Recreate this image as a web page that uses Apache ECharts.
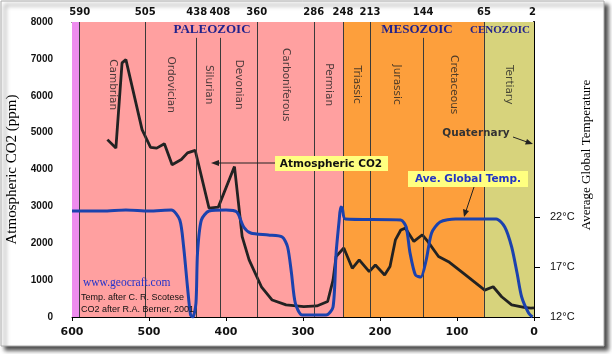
<!DOCTYPE html>
<html>
<head>
<meta charset="utf-8">
<script src="https://cdn.jsdelivr.net/npm/echarts@6/dist/echarts.min.js"></script>
<style>
    html, body { margin: 0; padding: 0; background: #fff; }
    #chart { width: 612px; height: 354px; }
</style>
</head>
<body>
<div id="chart"></div>
<script>
    // period boundaries (million years ago) shown on top axis
    var boundaries = [590, 505, 438, 408, 360, 286, 248, 213, 144, 65, 2];
    var shortLines = [438, 408, 144];   // lines that stop under the era names
    var periods = ['Cambrian', 'Ordovician', 'Silurian', 'Devonian', 'Carboniferous',
                   'Permian', 'Triassic', 'Jurassic', 'Cretaceous', 'Tertiary'];

    // atmospheric CO2 (ppm), after Berner
    var co2Ages = [554, 543, 535, 530, 528, 509, 498, 490, 480, 470, 458, 450, 440, 422, 410,
                   389, 379, 370, 354, 340, 322, 299, 282, 268, 261, 257, 247, 236, 227, 214,
                   206, 194, 187, 180, 173, 167, 156, 145, 138, 124, 111, 89, 64, 53, 42, 29, 13, 4, 0];
    var co2Ppm  = [4810, 4580, 6890, 6980, 6940, 5080, 4600, 4580, 4700, 4130, 4270, 4450, 4520, 2950, 2980,
                   4080, 2180, 1550, 820, 460, 330, 280, 300, 420, 1000, 1640, 1870, 1320, 1550, 1230,
                   1410, 1140, 1370, 2090, 2360, 2410, 2050, 2230, 2050, 1640, 1500, 1140, 730, 820, 550, 330, 260, 240, 250];

    // average global temperature (deg C), after Scotese
    var tempAges = [600, 560, 530, 500, 471, 460, 455, 450, 446, 443, 439, 437, 432, 422, 400,
                    386, 377, 368, 345, 327, 320, 315, 310, 301, 270, 261, 257, 253, 251, 249,
                    245, 173, 166, 161, 154, 147, 140, 133, 122, 102, 49, 38, 29, 22, 16, 7, 2];
    var tempC    = [22.6, 22.6, 22.7, 22.6, 22.7, 21.7, 19.0, 15.0, 12.2, 12.0, 13.4, 18.4, 21.7, 22.6, 22.7,
                    22.5, 21.0, 20.4, 20.2, 20.0, 19.0, 16.4, 13.4, 12.2, 12.2, 13.0, 18.4, 21.7, 23.0, 22.9,
                    21.8, 21.7, 21.0, 18.4, 16.2, 16.0, 17.7, 20.4, 21.5, 21.8, 21.8, 21.0, 19.0, 16.4, 14.0, 12.4, 12.0];

    var tempTicks = [12, 17, 22];

    function zip(a, b) {
        return a.map(function (v, i) { return [v, b[i]]; });
    }

    var chart = echarts.init(document.getElementById('chart'));

    var periodData = periods.map(function (p, i) {
        return { name: p, value: [(boundaries[i] + boundaries[i + 1]) / 2, 6300] };
    });
    periodData[9].value[0] = (65 + 0) / 2;

    var lineData = boundaries.slice(0, 10).map(function (b) {
        if (shortLines.indexOf(b) >= 0) {
            return [{ coord: [b, 0] }, { coord: [b, 7570] }];
        }
        return { xAxis: b };
    });

    var sans = 'DejaVu Sans';

    chart.setOption({
        backgroundColor: '#fff',
        animation: false,
        grid: { left: 72, right: 78, top: 22, bottom: 37, outerBoundsMode: 'none', containLabel: false },
        xAxis: [{
            type: 'value', min: 0, max: 600, interval: 100, inverse: true, position: 'bottom',
            axisLine: { lineStyle: { color: '#000', width: 1 } },
            axisTick: { length: 4, lineStyle: { color: '#000' } },
            axisLabel: { fontFamily: sans, fontWeight: 'bold', fontSize: 11, color: '#111', margin: 10 },
            splitLine: { show: false }
        }, {
            type: 'value', min: 0, max: 600, inverse: true, position: 'top',
            axisLine: { show: true, lineStyle: { color: '#000', width: 1 } },
            axisTick: { show: false },
            axisLabel: { customValues: boundaries, fontFamily: sans, fontWeight: 'bold', fontSize: 10, color: '#111', margin: 5 },
            splitLine: { show: false }
        }],
        yAxis: [{
            type: 'value', min: 0, max: 8000, interval: 1000,
            name: 'Atmospheric CO2 (ppm)', nameLocation: 'middle', nameGap: 50,
            nameTextStyle: { fontFamily: 'Liberation Serif', fontSize: 15, color: '#000' },
            axisLine: { show: true, lineStyle: { color: '#000' } },
            axisTick: { show: true, length: 8, lineStyle: { color: '#000' } },
            axisLabel: { formatter: function (v) { return String(v); }, fontFamily: 'Liberation Sans', fontWeight: 'bold', fontSize: 10, color: '#111', margin: 19 },
            splitLine: { show: false }
        }, {
            type: 'value', min: 12, max: 41.5, position: 'right',
            axisLine: { show: true, lineStyle: { color: '#000', width: 2 } },
            axisTick: { show: true, customValues: tempTicks, length: 6, lineStyle: { color: '#000' } },
            axisLabel: { customValues: tempTicks, formatter: '{value}°C', fontFamily: 'Liberation Sans', fontSize: 11, color: '#111', margin: 16 },
            splitLine: { show: false }
        }],
        series: [{
            type: 'line', data: [], silent: true, z: 1,
            markArea: {
                silent: true,
                data: [
                    [{ xAxis: 600, itemStyle: { color: '#ee8cee' } }, { xAxis: 590 }],
                    [{ xAxis: 590, itemStyle: { color: '#ffa0a0' } }, { xAxis: 248 }],
                    [{ xAxis: 248, itemStyle: { color: '#fd9f3c' } }, { xAxis: 65 }],
                    [{ xAxis: 65, itemStyle: { color: '#d7d37c' } }, { xAxis: 0 }]
                ]
            },
            markLine: {
                silent: true, symbol: 'none', label: { show: false },
                lineStyle: { color: '#3a3a3a', width: 1, type: 'solid' },
                data: lineData
            }
        }, {
            type: 'scatter', symbolSize: 0, silent: true, z: 3,
            data: periodData,
            label: {
                show: true, position: 'inside', rotate: -90, formatter: '{b}',
                fontFamily: sans, fontSize: 10.5, color: '#222'
            }
        }, {
            name: 'Atmospheric CO2', type: 'line', z: 4,
            data: zip(co2Ages, co2Ppm), symbol: 'none',
            lineStyle: { color: '#222', width: 2.8 }
        }, {
            name: 'Ave. Global Temp.', type: 'line', z: 5, yAxisIndex: 1,
            data: zip(tempAges, tempC), symbol: 'none', smooth: 0.25,
            lineStyle: { color: '#1b42ae', width: 3 }
        }],
        graphic: [
            { type: 'rect', z: -10, silent: true, shape: { x: 1, y: 1, width: 603, height: 345 },
              style: { fill: '#fff', stroke: '#aaa', lineWidth: 1, shadowColor: 'rgba(0,0,0,0.7)', shadowBlur: 4, shadowOffsetX: 4, shadowOffsetY: 4 } },
            // era names
            { type: 'text', z: 10, x: 212, y: 30, style: { text: 'PALEOZOIC', align: 'center', verticalAlign: 'middle', fontFamily: 'Liberation Serif', fontWeight: 'bold', fontSize: 13, fill: '#22228c' } },
            { type: 'text', z: 10, x: 417, y: 30, style: { text: 'MESOZOIC', align: 'center', verticalAlign: 'middle', fontFamily: 'Liberation Serif', fontWeight: 'bold', fontSize: 13, fill: '#22228c' } },
            { type: 'text', z: 10, x: 500, y: 30, style: { text: 'CENOZOIC', align: 'center', verticalAlign: 'middle', fontFamily: 'Liberation Serif', fontWeight: 'bold', fontSize: 11, fill: '#22228c' } },
            // CO2 callout
            { type: 'rect', z: 10, shape: { x: 275, y: 156, width: 113, height: 15 }, style: { fill: '#ffff80' } },
            { type: 'text', z: 11, x: 331, y: 164, style: { text: 'Atmospheric CO2', align: 'center', verticalAlign: 'middle', fontFamily: sans, fontWeight: 'bold', fontSize: 10.5, fill: '#111' } },
            { type: 'line', z: 10, shape: { x1: 275, y1: 163, x2: 216, y2: 163 }, style: { stroke: '#222', lineWidth: 1 } },
            { type: 'polygon', z: 10, shape: { points: [[211, 163], [219, 160], [219, 166]] }, style: { fill: '#222' } },
            // temperature callout
            { type: 'rect', z: 10, shape: { x: 408, y: 171, width: 120, height: 16 }, style: { fill: '#ffff80' } },
            { type: 'text', z: 11, x: 468, y: 179, style: { text: 'Ave. Global Temp.', align: 'center', verticalAlign: 'middle', fontFamily: sans, fontWeight: 'bold', fontSize: 10.5, fill: '#2236c4' } },
            { type: 'line', z: 10, shape: { x1: 474, y1: 187, x2: 466, y2: 211 }, style: { stroke: '#222', lineWidth: 1 } },
            { type: 'polygon', z: 10, shape: { points: [[464, 217], [469, 211], [463, 209]] }, style: { fill: '#222' } },
            // quaternary note
            { type: 'text', z: 10, x: 476, y: 133, style: { text: 'Quaternary', align: 'center', verticalAlign: 'middle', fontFamily: sans, fontWeight: 'bold', fontSize: 10.5, fill: '#333' } },
            { type: 'line', z: 10, shape: { x1: 513, y1: 137, x2: 527, y2: 142 }, style: { stroke: '#222', lineWidth: 1 } },
            { type: 'polygon', z: 10, shape: { points: [[533, 144], [525, 144.5], [527, 139]] }, style: { fill: '#222' } },
            // credits
            { type: 'text', z: 10, x: 83, y: 283, style: { text: 'www.geocraft.com', verticalAlign: 'middle', fontFamily: 'Liberation Serif', fontSize: 11.5, fill: '#2233cc' } },
            { type: 'text', z: 10, x: 81, y: 298, style: { text: 'Temp. after C. R. Scotese', verticalAlign: 'middle', fontFamily: 'Liberation Sans', fontSize: 9, fill: '#111' } },
            { type: 'text', z: 10, x: 81, y: 310, style: { text: 'CO2 after R.A. Berner, 2001', verticalAlign: 'middle', fontFamily: 'Liberation Sans', fontSize: 9, fill: '#111' } },
            // right axis title
            { type: 'text', z: 10, x: 587, y: 155, rotation: Math.PI / 2, style: { text: 'Average Global Temperature', align: 'center', verticalAlign: 'middle', fontFamily: 'Liberation Serif', fontSize: 13, fill: '#000' } }
        ]
    });
</script>
</body>
</html>
